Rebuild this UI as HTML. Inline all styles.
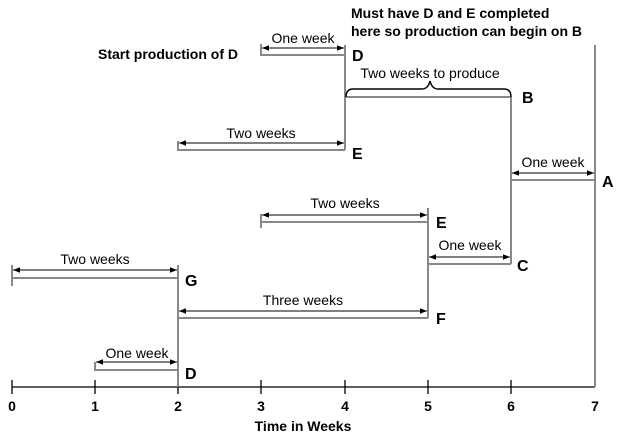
<!DOCTYPE html>
<html><head><style>body{margin:0;background:#fff}svg{display:block;font-family:"Liberation Sans",Arial,sans-serif}</style></head><body>
<svg width="625" height="442" viewBox="0 0 625 442">
<defs><marker id="a" viewBox="0 0 10 10" refX="10" refY="5" markerWidth="7" markerHeight="7" orient="auto-start-reverse"><path d="M0,1 L10,5 L0,9 z" fill="#000"/></marker></defs>
<g stroke="#000" stroke-width="1.3">
<line x1="12" y1="387" x2="595" y2="387"/>
<line x1="12" y1="380" x2="12" y2="394"/><line x1="95" y1="380" x2="95" y2="394"/><line x1="178" y1="380" x2="178" y2="394"/><line x1="261" y1="380" x2="261" y2="394"/><line x1="345" y1="380" x2="345" y2="394"/><line x1="428" y1="380" x2="428" y2="394"/><line x1="511" y1="380" x2="511" y2="394"/>
</g>
<g font-size="14" font-weight="bold" text-anchor="middle">
<text x="12" y="411">0</text><text x="95" y="411">1</text><text x="178" y="411">2</text><text x="261" y="411">3</text><text x="345" y="411">4</text><text x="428" y="411">5</text><text x="511" y="411">6</text><text x="595" y="411">7</text>
<text x="303" y="431">Time in Weeks</text>
</g>
<g stroke="#888" stroke-width="2" fill="none">
<line x1="595" y1="45" x2="595" y2="387"/>
<line x1="261" y1="44" x2="261" y2="56"/><line x1="261" y1="55" x2="345" y2="55"/>
<line x1="345" y1="45" x2="345" y2="150"/>
<line x1="345" y1="97" x2="511" y2="97"/><line x1="511" y1="97" x2="511" y2="264"/>
<line x1="178" y1="141" x2="178" y2="151"/><line x1="178" y1="150" x2="345" y2="150"/>
<line x1="511" y1="180" x2="595" y2="180"/>
<line x1="261" y1="214" x2="261" y2="228"/><line x1="261" y1="222" x2="428" y2="222"/>
<line x1="428" y1="208" x2="428" y2="318"/>
<line x1="428" y1="264" x2="511" y2="264"/>
<line x1="12" y1="265" x2="12" y2="286"/><line x1="12" y1="278" x2="178" y2="278"/>
<line x1="178" y1="265" x2="178" y2="387"/>
<line x1="178" y1="318" x2="428" y2="318"/>
<line x1="95" y1="362" x2="95" y2="371"/><line x1="95" y1="370" x2="178" y2="370"/>
</g>
<path d="M346,97 Q346,89 353,89 L422,89 Q428,89 430,81 Q432,89 438,89 L504,89 Q511,89 511,97" stroke="#000" stroke-width="1.5" fill="none"/>
<g stroke="#000" stroke-width="1" marker-start="url(#a)" marker-end="url(#a)">
<line x1="262" y1="48" x2="344" y2="48"/>
<line x1="179" y1="143" x2="344" y2="143"/>
<line x1="512" y1="173" x2="594" y2="173"/>
<line x1="262" y1="215" x2="427" y2="215"/>
<line x1="429" y1="257" x2="510" y2="257"/>
<line x1="13" y1="270" x2="177" y2="270"/>
<line x1="179" y1="311" x2="427" y2="311"/>
<line x1="96" y1="362" x2="177" y2="362"/>
</g>
<g font-size="14" text-anchor="middle">
<text x="303" y="43">One week</text>
<text x="430" y="78">Two weeks to produce</text>
<text x="261" y="138">Two weeks</text>
<text x="553" y="167">One week</text>
<text x="345" y="208">Two weeks</text>
<text x="470" y="250">One week</text>
<text x="95" y="264">Two weeks</text>
<text x="303" y="305">Three weeks</text>
<text x="137" y="358">One week</text>
</g>
<g font-size="16" font-weight="bold">
<text x="352" y="61">D</text><text x="522" y="103">B</text><text x="352" y="159">E</text><text x="602" y="187">A</text>
<text x="436" y="228">E</text><text x="517" y="271">C</text><text x="185" y="286">G</text><text x="436" y="324">F</text><text x="185" y="379">D</text>
</g>
<g font-size="14" font-weight="bold">
<text x="98" y="59">Start production of D</text>
<text x="351" y="18">Must have D and E completed</text>
<text x="351" y="36">here so production can begin on B</text>
</g>
</svg>
</body></html>
